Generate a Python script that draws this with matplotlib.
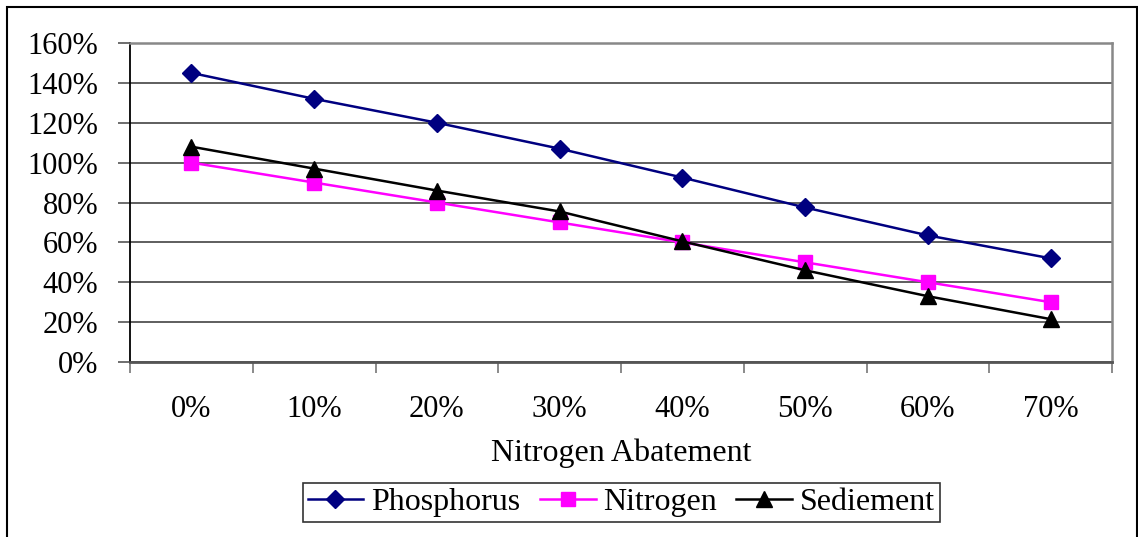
import matplotlib.pyplot as plt
from matplotlib.patches import Rectangle
from matplotlib.ticker import FuncFormatter

# Load reductions (% of baseline) for each level of nitrogen abatement
abatement = ['0%', '10%', '20%', '30%', '40%', '50%', '60%', '70%']
phosphorus = [145, 132, 120, 107, 92.5, 77.5, 63.5, 52]
nitrogen = [100, 90, 80, 70, 60, 50, 40, 30]
sediment = [108, 97, 86, 75.5, 60.5, 46, 33, 21.5]

plt.rcParams['font.family'] = ['Liberation Serif', 'DejaVu Serif']

fig = plt.figure(figsize=(11.38, 5.37), dpi=100)
ax = fig.add_axes([130 / 1138, 1 - 362 / 537, (1112 - 130) / 1138, (362 - 43) / 537])

x = list(range(len(abatement)))
ax.plot(x, phosphorus, color='#000080', lw=1.8, marker='D', ms=9.2, label='Phosphorus')
ax.plot(x, nitrogen, color='#FF00FF', lw=1.8, marker='s', ms=10.5, label='Nitrogen')
ax.plot(x, sediment, color='black', lw=1.8, marker='^', ms=11, label='Sediement')

ax.set_xlim(-0.5, len(abatement) - 0.5)
ax.set_ylim(0, 160)
ax.set_yticks(range(0, 161, 20))
ax.yaxis.set_major_formatter(FuncFormatter(lambda v, p: f'{int(v)}%'))
ax.grid(axis='y', color='#333333', lw=1.1)
ax.set_axisbelow(True)

# category labels centred, tick marks between categories
ax.set_xticks(x)
ax.set_xticklabels(abatement)
ax.set_xticks([i - 0.5 for i in range(len(abatement) + 1)], minor=True)
ax.tick_params(axis='x', which='major', length=0, pad=24, labelsize=22)
ax.tick_params(axis='x', which='minor', length=8, width=1.2, color='#777777', direction='out')
ax.tick_params(axis='y', length=9, width=1.2, color='#555555', pad=14, labelsize=22)

ax.spines['left'].set_color('black')
ax.spines['left'].set_linewidth(1.3)
ax.spines['bottom'].set_color('#555555')
ax.spines['bottom'].set_linewidth(2)
for s in ['top', 'right']:
    ax.spines[s].set_color('#888888')
    ax.spines[s].set_linewidth(1.8)

ax.set_xlabel('Nitrogen Abatement', fontsize=23, labelpad=10)

leg = fig.legend(loc='center', bbox_to_anchor=(621.5 / 1138, 1 - 502.5 / 537), ncol=3,
                 fontsize=23, frameon=True, fancybox=False, edgecolor='black',
                 handlelength=1.75, handletextpad=0.25, columnspacing=0.6,
                 borderpad=0.15, borderaxespad=0)
leg.get_frame().set_linewidth(1.2)

# outer chart frame
fig.patches.append(Rectangle((7 / 1138, -0.1), 1130 / 1138, 1.1 - 7 / 537,
                             transform=fig.transFigure, fill=False,
                             edgecolor='black', lw=1.5))

fig.savefig('out.png', dpi=100)
